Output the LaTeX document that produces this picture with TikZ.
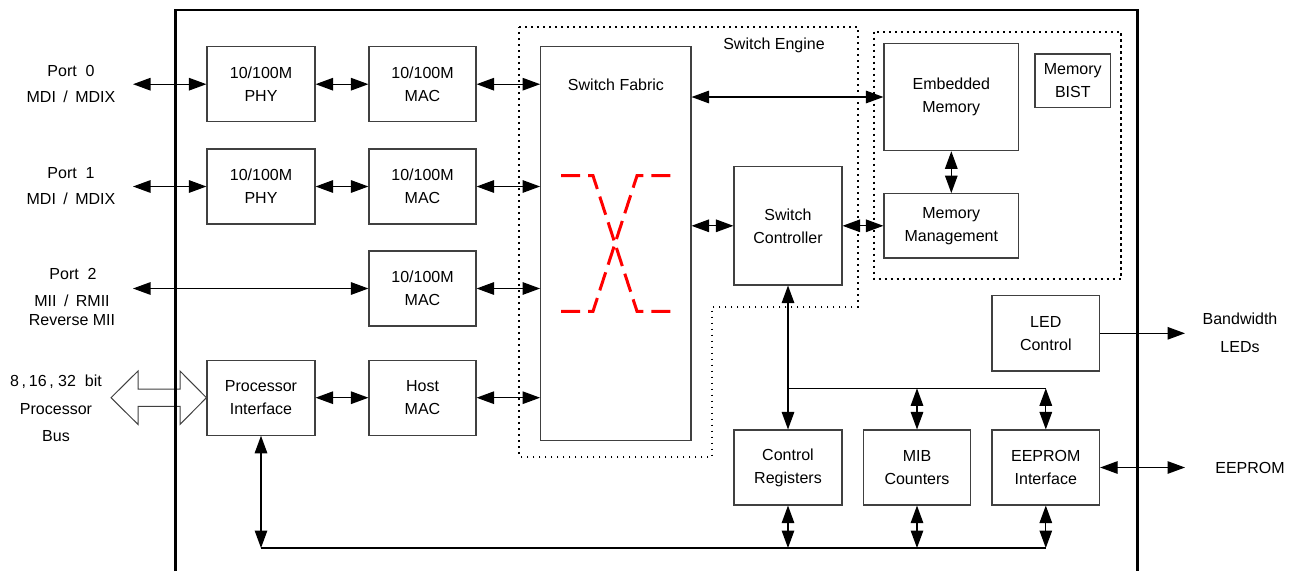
\documentclass[tikz,border=0pt]{standalone}
\usepackage{fontspec}
\setmainfont{Liberation Sans}
\usetikzlibrary{arrows.meta}
\begin{document}
\begin{tikzpicture}[x=1pt,y=-1pt,
  box/.style={draw=black!75, line width=1.1pt, fill=white, align=center, inner sep=0pt, font=\fontsize{16}{23}\selectfont},
  lbl/.style={align=center, inner sep=0pt, font=\fontsize{16}{23}\selectfont},
  conn/.style={line width=1.3pt, draw=black},
  bi/.style={conn, {Triangle[length=17.5pt,width=12.5pt]}-{Triangle[length=17.5pt,width=12.5pt]}},
  uni/.style={conn, -{Triangle[length=17.5pt,width=12.5pt]}},
  dotline/.style={line width=1.8pt, dash pattern=on 1.8pt off 4.2pt},
  memdot/.style={line width=2.2pt, dash pattern=on 2.2pt off 3.8pt},
  xline/.style={draw=red, line width=3pt, dash pattern=on 19pt off 8pt},
]
\useasboundingbox (0,0) rectangle (1296,571);

% dotted regions
\draw[dotline] (519,26.7) -- (857.7,26.7) -- (857.7,306.7) -- (712.3,306.7) -- (712.3,456.7) -- (519,456.7) -- cycle;
\draw[memdot] (873.8,31.7) rectangle (1121,279);

% boxes
\node[box, minimum width=108pt, minimum height=75pt] (phy0) at (261,84.2) {10/100M\\PHY};
\node[box, minimum width=107pt, minimum height=75pt] (mac0) at (422.5,84.2) {10/100M\\MAC};
\node[box, minimum width=108pt, minimum height=75pt] (phy1) at (261,186.5) {10/100M\\PHY};
\node[box, minimum width=107pt, minimum height=75pt] (mac1) at (422.5,186.5) {10/100M\\MAC};
\node[box, minimum width=107pt, minimum height=75pt] (mac2) at (422.5,288.5) {10/100M\\MAC};
\node[box, minimum width=108pt, minimum height=75pt] (proc) at (261,397.7) {Processor\\Interface};
\node[box, minimum width=107pt, minimum height=75pt] (host) at (422.5,397.7) {Host\\MAC};
\node[box, minimum width=150.3pt, minimum height=394pt] (fabric) at (615.8,243.7) {};
\node[lbl] (fabtxt) at (616,84.3) {Switch Fabric};
\node[lbl] (engtxt) at (774,45.7) {Switch Engine};
\node[box, minimum width=108pt, minimum height=118.3pt] (ctrl) at (788,225.8) {Switch\\Controller};
\node[box, minimum width=134.6pt, minimum height=107.4pt] (emb) at (951.3,97) {Embedded\\Memory};
\node[box, minimum width=75.6pt, minimum height=53.7pt] (bist) at (1072.8,80.8) {Memory\\BIST};
\node[box, minimum width=134.6pt, minimum height=64.3pt] (mm) at (951.3,225.8) {Memory\\Management};
\node[box, minimum width=107.6pt, minimum height=75.3pt] (led) at (1045.8,333.3) {LED\\Control};
\node[box, minimum width=108pt, minimum height=75pt] (creg) at (788,467.5) {Control\\Registers};
\node[box, minimum width=107.2pt, minimum height=75pt] (mib) at (917,467.5) {MIB\\Counters};
\node[box, minimum width=107.6pt, minimum height=75pt] (eei) at (1045.8,467.5) {EEPROM\\Interface};

% red crossbar
\draw[xline] (561,175.7) -- (593,175.7) -- (637,311.3) -- (671,311.3);
\draw[xline] (561,311.3) -- (593,311.3) -- (637,175.7) -- (671,175.7);

% external labels
\node[lbl, font=\fontsize{16}{26.6}\selectfont] (p0txt) at (71,84) {Port\ \ 0\\MDI\hspace{3pt} / \hspace{3pt}MDIX};
\node[lbl, font=\fontsize{16}{26.6}\selectfont] (p1txt) at (71,186) {Port\ \ 1\\MDI\hspace{3pt} / \hspace{3pt}MDIX};
\node[lbl] (p2txt) at (73,274.3) {Port\ \ 2};
\node[lbl, font=\fontsize{16}{18.3}\selectfont] (p2txtb) at (72,310.2) {MII\hspace{3pt} / \hspace{3pt}RMII\\Reverse MII};
\node[lbl, font=\fontsize{16}{27.5}\selectfont] (bustxt) at (56,408.5) {8\,,\,16\,,\ 32\ \ bit\\Processor\\Bus};
\node[lbl, font=\fontsize{16}{27.7}\selectfont] (ledtxt) at (1240,333) {Bandwidth\\LEDs};
\node[lbl] (eeptxt) at (1250,467.7) {EEPROM};

% free ends
\coordinate (p0) at (133,84.2);
\coordinate (p1) at (133,186.5);
\coordinate (p2) at (133,288.5);
\coordinate (ledout) at (1185,333.3);
\coordinate (eepout) at (1185,467.5);
\coordinate (busL) at (261,548);
\coordinate (busR) at (1045.8,548);
\coordinate (ibusL) at (788,388.3);
\coordinate (ibusR) at (1045.8,388.3);

% big hollow double arrow (processor bus)
\draw[draw=black!75, line width=1pt, fill=white]
  (111,397.7) -- (138,371) -- (138,389) -- (180,389) -- (180,371) -- (proc.west)
  -- (180,424.4) -- (180,406.4) -- (138,406.4) -- (138,424.4) -- cycle;

% connectors
\draw[bi] (p0) -- (phy0.west);
\draw[bi] (phy0.east) -- (mac0.west);
\draw[bi] (mac0.east) -- (mac0.east -| fabric.west);
\draw[bi] (p1) -- (phy1.west);
\draw[bi] (phy1.east) -- (mac1.west);
\draw[bi] (mac1.east) -- (mac1.east -| fabric.west);
\draw[bi] (p2) -- (mac2.west);
\draw[bi] (mac2.east) -- (mac2.east -| fabric.west);
\draw[bi] (proc.east) -- (host.west);
\draw[bi] (host.east) -- (host.east -| fabric.west);
\draw[bi] (emb.west -| fabric.east) -- (emb.west);
\draw[bi] (ctrl.west -| fabric.east) -- (ctrl.west);
\draw[bi] (ctrl.east) -- (mm.west);
\draw[bi] (emb.south) -- (mm.north);
\draw[bi] (ctrl.south) -- (creg.north);
\draw[conn] (ibusL) -- (ibusR);
\draw[bi] (mib.north |- ibusL) -- (mib.north);
\draw[bi] (ibusR) -- (eei.north);
\draw[uni] (led.east) -- (ledout);
\draw[bi] (eei.east) -- (eepout);
\draw[bi] (proc.south) -- (busL);
\draw[conn] (busL) -- (busR);
\draw[bi] (creg.south) -- (creg.south |- busL);
\draw[bi] (mib.south) -- (mib.south |- busL);
\draw[bi] (eei.south) -- (busR);

% chip border
\draw[line width=2.5pt, black] (175.5,571) -- (175.5,10) -- (1137.5,10) -- (1137.5,571);
\end{tikzpicture}
\end{document}
